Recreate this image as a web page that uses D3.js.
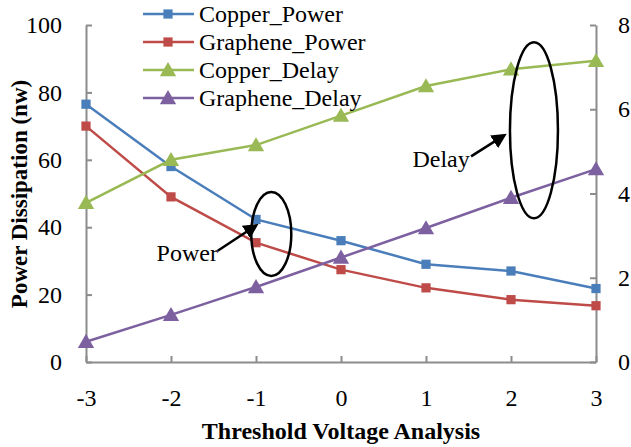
<!DOCTYPE html>
<html>
<head>
<meta charset="utf-8">
<script src="https://cdn.jsdelivr.net/npm/d3@7"></script>
<style>
  body { margin: 0; background: #fff; }
</style>
</head>
<body>
<div class="canvas"></div>
<script>
// data
const voltages = [-3, -2, -1, 0, 1, 2, 3];
const copperPower = [76.5, 58, 42.3, 36, 29, 27, 21.8];
const graphenePower = [70, 49, 35.4, 27.4, 22, 18.5, 16.7];
const copperDelay = [3.78, 4.8, 5.15, 5.85, 6.55, 6.95, 7.15];
const grapheneDelay = [0.48, 1.12, 1.78, 2.48, 3.18, 3.9, 4.58];
const leftTicks = [0, 20, 40, 60, 80, 100];
const rightTicks = [0, 2, 4, 6, 8];

const series = [
  {name: 'Copper_Power', values: copperPower, axis: 'left', color: '#4A7EBB', marker: 'square'},
  {name: 'Graphene_Power', values: graphenePower, axis: 'left', color: '#BE4B48', marker: 'square'},
  {name: 'Copper_Delay', values: copperDelay, axis: 'right', color: '#98B954', marker: 'triangle'},
  {name: 'Graphene_Delay', values: grapheneDelay, axis: 'right', color: '#7D60A0', marker: 'triangle'}
];

const width = 631, height = 447;
const margin = {top: 25, bottom: 85, right: 35, left: 86};
const plotW = width - margin.left - margin.right;
const plotH = height - margin.top - margin.bottom;
const serif = 'Liberation Serif';

const svg = d3.select('.canvas')
  .append('svg')
    .attr('width', width)
    .attr('height', height)
    .attr('font-family', serif);

const graph = svg.append('g')
  .attr('transform', `translate(${margin.left}, ${margin.top})`);

const x = d3.scaleLinear().domain([-3, 3]).range([0, plotW]);
const yLeft = d3.scaleLinear().domain([0, 100]).range([plotH, 0]);
const yRight = d3.scaleLinear().domain([0, 8]).range([plotH, 0]);

const axisColor = '#8c8c8c';

// axes, ticks point inward
const xAxis = graph.append('g')
  .attr('transform', `translate(0, ${plotH})`)
  .call(d3.axisBottom(x).tickValues(voltages).tickSizeInner(-6).tickSizeOuter(0).tickPadding(24).tickFormat(d => String(d)));
const yAxisL = graph.append('g')
  .call(d3.axisLeft(yLeft).tickValues(leftTicks).tickSizeInner(-6).tickSizeOuter(0).tickPadding(24));
const yAxisR = graph.append('g')
  .attr('transform', `translate(${plotW}, 0)`)
  .call(d3.axisRight(yRight).tickValues(rightTicks).tickSizeInner(-6).tickSizeOuter(0).tickPadding(22));

[xAxis, yAxisL, yAxisR].forEach(a => {
  a.attr('font-family', serif).attr('font-size', 24);
  a.select('.domain').attr('stroke', axisColor).attr('stroke-width', 2);
  a.selectAll('.tick line').attr('stroke', axisColor).attr('stroke-width', 2);
  a.selectAll('.tick text').attr('fill', '#000');
});
xAxis.selectAll('.tick text').attr('dy', '0.85em');

// lines and markers
const sq = d3.symbol().type(d3.symbolSquare).size(85);
const tri = d3.symbol().type(d3.symbolTriangle).size(115);

series.forEach(s => {
  const yS = s.axis === 'left' ? yLeft : yRight;
  const line = d3.line().x((d, i) => x(voltages[i])).y(d => yS(d));
  graph.append('path')
    .datum(s.values)
    .attr('fill', 'none')
    .attr('stroke', s.color)
    .attr('stroke-width', 2.5)
    .attr('d', line);
  graph.selectAll(null)
    .data(s.values)
    .enter()
    .append('path')
      .attr('d', s.marker === 'square' ? sq : tri)
      .attr('fill', s.color)
      .attr('transform', (d, i) => `translate(${x(voltages[i])}, ${yS(d) + (s.marker === 'triangle' ? 1.5 : 0)})`);
});

// legend
const legend = svg.append('g').attr('transform', 'translate(143, 14)');
series.forEach((s, i) => {
  const row = legend.append('g').attr('transform', `translate(0, ${i * 28})`);
  row.append('line').attr('x1', 0).attr('x2', 51).attr('stroke', s.color).attr('stroke-width', 2.5);
  row.append('path')
    .attr('d', s.marker === 'square' ? sq : tri)
    .attr('fill', s.color)
    .attr('transform', `translate(25, ${s.marker === 'triangle' ? 1.5 : 0})`);
  row.append('text').attr('x', 56).attr('dy', '0.35em')
    .attr('font-family', serif).attr('font-size', 24).text(s.name);
});

// axis titles
svg.append('text')
  .attr('x', margin.left + plotW / 2)
  .attr('y', 439)
  .attr('text-anchor', 'middle')
  .attr('font-family', serif)
  .attr('font-size', 24)
  .attr('font-weight', 'bold')
  .text('Threshold Voltage Analysis');

svg.append('text')
  .attr('transform', `translate(27, 194) rotate(-90)`)
  .attr('text-anchor', 'middle')
  .attr('font-family', serif)
  .attr('font-size', 23)
  .attr('font-weight', 'bold')
  .text('Power Dissipation (nw)');

// annotations (placed in data units)
svg.append('defs').append('marker')
  .attr('id', 'arrow')
  .attr('viewBox', '0 0 10 10')
  .attr('refX', 8).attr('refY', 5)
  .attr('markerWidth', 6).attr('markerHeight', 6)
  .attr('orient', 'auto')
  .append('path').attr('d', 'M0,0 L10,5 L0,10 z').attr('fill', '#000');

function note(label, cx, cy, rx, ry, tx, ty, ax0, ay0, ax1, ay1, yS) {
  graph.append('ellipse')
    .attr('cx', x(cx)).attr('cy', yS(cy))
    .attr('rx', rx).attr('ry', ry)
    .attr('fill', 'none').attr('stroke', '#000').attr('stroke-width', 2.5);
  graph.append('line')
    .attr('x1', x(ax0)).attr('y1', yS(ay0))
    .attr('x2', x(ax1)).attr('y2', yS(ay1))
    .attr('stroke', '#000').attr('stroke-width', 2.5)
    .attr('marker-end', 'url(#arrow)');
  graph.append('text')
    .attr('x', x(tx)).attr('y', yS(ty))
    .attr('dy', '0.35em')
    .attr('font-family', serif)
    .attr('font-size', 24)
    .text(label);
}

note('Power', -0.82, 38, 20, 42, -2.17, 32.5, -1.45, 33, -1.0, 40.5, yLeft);
note('Delay', 2.27, 5.5, 24, 88, 0.84, 4.82, 1.53, 4.88, 1.92, 5.38, yRight);
</script>
</body>
</html>
